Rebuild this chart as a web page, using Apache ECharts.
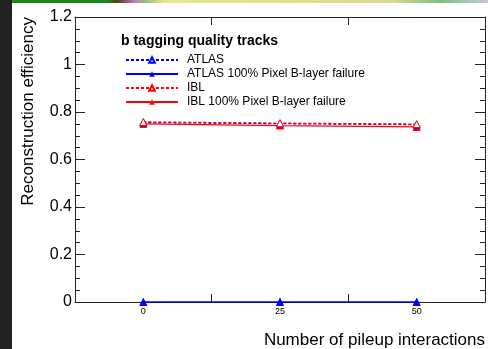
<!DOCTYPE html>
<html lang="en">
<head>
	<meta charset="UTF-8">
	<title>b tagging quality tracks</title>
	<script src="https://cdn.jsdelivr.net/npm/echarts@6/dist/echarts.min.js"></script>
	<style type="text/css">
		html, body { margin: 0; padding: 0; background: #fff; }
		#wrap { position: relative; width: 488px; height: 349px; overflow: hidden; }
		#side { position: absolute; left: 0; top: 0; width: 12px; height: 349px; background: #222; }
		#strip { position: absolute; left: 12px; top: 0; width: 476px; height: 3px;
			background: linear-gradient(to right, #1a8a1a 0%, #1a8a1a 20%, #5a3a1a 22%, #c080c0 26%, #90c080 28%, #e8e890 32%, #d8d890 80%, #80c080 90%, #c8c8d8 100%); }
		#main { position: absolute; left: 0; top: 0; width: 488px; height: 349px; }
	</style>
</head>
<body>
	<div id="wrap">
		<div id="main"></div>
		<div id="side"></div>
		<div id="strip"></div>
	</div>
	<script type="text/javascript">
		var pileup = [0, 25, 50];
		var xTicks = [12.5, 37.5];
		var atlas = [0.756, 0.751, 0.747];
		var atlasFail = [0, 0, 0];
		var ibl = [0.758, 0.753, 0.749];
		var iblFail = [0.750, 0.743, 0.737];

		var BLUE = '#0000ff';
		var RED = '#ff0000';
		var FONT = 'Liberation Sans';

		function pairs(values) {
			var out = [];
			for (var i = 0; i < values.length; i++) {
				out.push([pileup[i], values[i]]);
			}
			return out;
		}

		function makeSeries(name, data, color, dashed, open) {
			return {
				name: name,
				type: 'line',
				data: pairs(data),
				symbol: 'triangle',
				symbolSize: 7,
				lineStyle: { color: color, width: 1.3, type: dashed ? [3, 2] : 'solid' },
				itemStyle: open ? { color: '#fff', borderColor: color, borderWidth: 1 } : { color: color, borderColor: color },
				z: dashed ? 3 : 2
			};
		}

		function xAxisFrame(pos, withLabels) {
			return {
				type: 'value',
				position: pos,
				min: -12.5, max: 62.5,
				axisLine: { show: true, onZero: false, lineStyle: { color: '#222', width: 1 } },
				axisTick: { show: true, inside: true, length: 8, customValues: xTicks, lineStyle: { color: '#222' } },
				axisLabel: withLabels ? { show: true, fontSize: 9, color: '#000', margin: 5, customValues: pileup } : { show: false },
				splitLine: { show: false }
			};
		}

		function yAxisFrame(pos, withLabels) {
			return {
				type: 'value',
				position: pos,
				min: 0, max: 1.2, interval: 0.2,
				axisLine: { show: true, onZero: false, lineStyle: { color: '#222', width: 1 } },
				axisTick: { show: true, inside: true, length: 10, lineStyle: { color: '#222' } },
				minorTick: { show: true, splitNumber: 4, length: 5, lineStyle: { color: '#222' } },
				axisLabel: withLabels ? { fontSize: 16, color: '#000', margin: 3 } : { show: false },
				splitLine: { show: false }
			};
		}

		var chart = echarts.init(document.getElementById('main'));

		var bottomX = xAxisFrame('bottom', true);
		bottomX.name = 'Number of pileup interactions';
		bottomX.nameLocation = 'end';
		bottomX.nameGap = 0;
		bottomX.nameTextStyle = { fontFamily: FONT, fontSize: 17, color: '#000', align: 'right', verticalAlign: 'top', padding: [30, 0, 0, 0] };

		var leftY = yAxisFrame('left', true);
		leftY.name = 'Reconstruction efficiency';
		leftY.nameLocation = 'end';
		leftY.nameRotate = 90;
		leftY.nameGap = 0;
		leftY.nameTextStyle = { fontFamily: FONT, fontSize: 17, color: '#000', align: 'right', verticalAlign: 'bottom', padding: [0, 0, 38, 0] };

		var option = {
			animation: false,
			textStyle: { fontFamily: FONT },
			title: {
				text: 'b tagging quality tracks',
				left: 116, top: 29,
				textStyle: { fontFamily: FONT, fontSize: 14, fontWeight: 'bold', color: '#000' }
			},
			legend: {
				orient: 'vertical',
				left: 120, top: 49,
				itemWidth: 52, itemHeight: 7, itemGap: 2,
				textStyle: { fontFamily: FONT, fontSize: 12, color: '#000', padding: [0, 0, 0, 4] },
				data: ['ATLAS', 'ATLAS 100% Pixel B-layer failure', 'IBL', 'IBL 100% Pixel B-layer failure']
			},
			grid: { left: 75, right: 3, top: 17, bottom: 46 },
			xAxis: [bottomX, xAxisFrame('top', false)],
			yAxis: [leftY, yAxisFrame('right', false)],
			series: [
				makeSeries('ATLAS', atlas, BLUE, true, true),
				makeSeries('ATLAS 100% Pixel B-layer failure', atlasFail, BLUE, false, false),
				makeSeries('IBL', ibl, RED, true, true),
				makeSeries('IBL 100% Pixel B-layer failure', iblFail, RED, false, false)
			]
		};

		chart.setOption(option);
	</script>
</body>
</html>
